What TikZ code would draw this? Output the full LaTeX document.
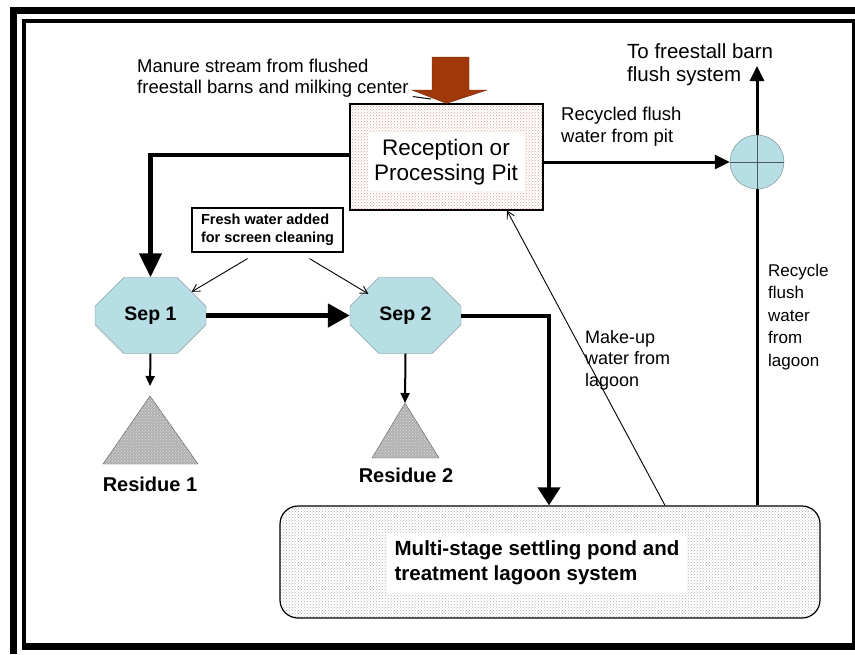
\documentclass[tikz,border=0pt]{standalone}
\usepackage{fontspec}
\setmainfont{Liberation Sans}
\usetikzlibrary{shapes.misc,shapes.geometric,patterns,arrows.meta,calc}

\definecolor{sepblue}{RGB}{183,222,228}
\definecolor{sepline}{RGB}{110,130,135}
\definecolor{manure}{RGB}{160,56,10}
\definecolor{pitdot}{RGB}{215,160,150}

\tikzset{
  sepbox/.style={chamfered rectangle,chamfered rectangle sep=20pt,draw=sepline,fill=sepblue,
    minimum width=111pt,minimum height=76pt,inner sep=0pt,font=\fontsize{19.5}{22}\selectfont\bfseries},
  lbl/.style={anchor=west,align=left,inner sep=0pt},
  heavy/.style={line width=5pt,-{Triangle[length=22pt,width=23pt]}},
  thick flow/.style={line width=3pt,-{Triangle[length=15pt,width=14pt]}},
  thin flow/.style={line width=0.9pt,-{Straight Barb[length=7pt,width=8pt]}},
  residue/.style={draw=gray!70!black,preaction={fill=gray!60},pattern=crosshatch dots,pattern color=gray!25}
}

\begin{document}
\begin{tikzpicture}[x=1pt,y=-1pt]
\useasboundingbox (0,0) rectangle (855,654);
% frame
\fill (10,7) rectangle (855,14);
\fill (10,7) rectangle (17,654);
\fill (22,19) rectangle (855,23);
\fill (22,19) rectangle (26,650);
\fill (22,643) rectangle (855,650);
\fill (852,19) rectangle (855,650);

% pit
\node[draw,line width=1.2pt,minimum width=193pt,minimum height=106pt,
  preaction={fill=white},pattern=crosshatch dots,pattern color=pitdot] (pit) at (446.5,157) {};
\node[fill=white,align=center,inner sep=6pt,font=\fontsize{22.5}{25}\selectfont] (pittext) at (446,162) {Reception or\\Processing Pit};

% manure inflow
\fill[manure,draw=manure!70!black] (432,57) -- (469,57) -- (469,90) -- (487,90) -- (pit.north)
  -- (412,90) -- (432,90) -- cycle;
\node[lbl,font=\fontsize{18.5}{21.5}\selectfont] (manuretext) at (137,78) {Manure stream from flushed\\freestall barns and milking center};
\draw[line width=1pt] ($(manuretext.south east)+(4,-1)$) -- (431,99);

% separators
\node[sepbox] (sep1) at (150.5,315.5) {Sep 1};
\node[sepbox] (sep2) at (405.5,315.5) {Sep 2};

% fresh water
\node[draw,line width=1.2pt,align=left,inner sep=5pt,minimum width=151pt,minimum height=44pt,
  font=\fontsize{14.5}{18}\selectfont\bfseries] (fresh) at (267.5,230) {Fresh water added\\for screen cleaning};
\draw[thin flow] ($(fresh.south)+(-20,6)$) -- (sep1.north east);
\draw[thin flow] ($(fresh.south)+(42,6)$) -- ($(sep2.north west)+(4,2)$);

% residues
\coordinate (res1) at (150,396);
\coordinate (res2) at (405,403);
\draw[residue] (res1) -- (198,464) -- (103,464) -- cycle;
\draw[residue] (res2) -- (439,458) -- (372,458) -- cycle;
\node[font=\fontsize{20}{22}\selectfont\bfseries] (res1text) at (150,484) {Residue 1};
\node[font=\fontsize{20}{22}\selectfont\bfseries] (res2text) at (406,475) {Residue 2};
\draw[line width=2pt,-{Triangle[length=10pt,width=9pt]}] (sep1.south) -- ($(res1)+(0,-10)$);
\draw[line width=2pt,-{Triangle[length=10pt,width=9pt]}] (sep2.south) -- (res2);

% lagoon
\node[draw,line width=1.2pt,rounded corners=18pt,minimum width=540pt,minimum height=112pt,
  preaction={fill=white},pattern=crosshatch dots,pattern color=gray!60] (pond) at (550,562) {};
\node[fill=white,align=left,inner sep=8pt,font=\fontsize{20.5}{25}\selectfont\bfseries] (pondtext) at (537,563)
  {Multi-stage settling pond and\\treatment lagoon system};

% recycle mixer
\node[circle,draw=sepline,fill=sepblue,minimum size=54pt,inner sep=0pt] (mix) at (757,162) {};
\draw[sepline!70!black] (mix.north) -- (mix.south) (mix.west) -- (mix.east);
\coordinate (barnout) at (757,66);

% flows
\draw[line width=4.5pt,-{Triangle[length=24pt,width=22pt]}] ($(pit.west)+(0,-2)$) -| (sep1.north);
\draw[heavy] (sep1.east) -- (sep2.west);
\draw[line width=4pt,-{Triangle[length=18pt,width=22pt]}] (sep2.east) -| (pond.north -| 549,0);
\draw[thick flow] (pit.east |- mix.west) -- (mix.west);
\draw[thick flow] (mix.north) -- (barnout);
\draw[line width=3pt] (pond.north -| mix) -- (mix.south);
\draw[thin flow] (pond.north -| 665,0) -- (pit.south -| 507,0);

% labels
\node[lbl,font=\fontsize{20.5}{23}\selectfont] (barntext) at (627,65) {To freestall barn\\flush system};
\node[lbl,font=\fontsize{18.5}{22}\selectfont] (pitflow) at (561,127) {Recycled flush\\water from pit};
\node[lbl,font=\fontsize{18}{21.5}\selectfont] (makeup) at (585,360) {Make-up\\water from\\lagoon};
\node[lbl,font=\fontsize{17}{22.5}\selectfont] (lagoonflow) at (768,317) {Recycle\\flush\\water\\from\\lagoon};
\end{tikzpicture}
\end{document}
